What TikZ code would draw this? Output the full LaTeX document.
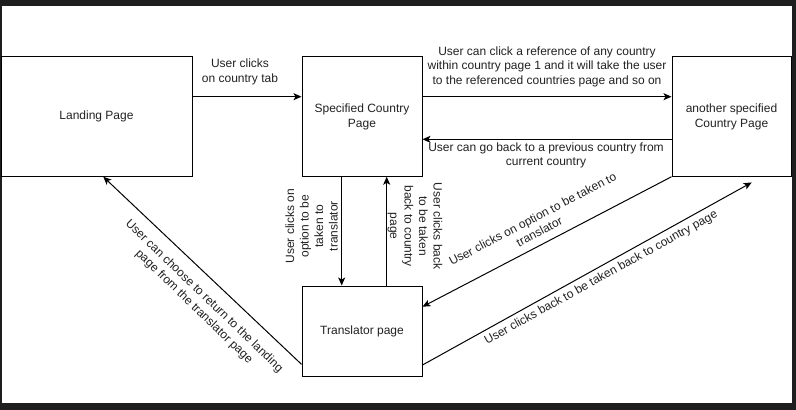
\documentclass[tikz,border=0pt]{standalone}
\usepackage{fontspec}
\setmainfont{Liberation Sans}
\usetikzlibrary{arrows.meta,calc}
\definecolor{bgdark}{HTML}{1E1E1E}
\definecolor{txt}{HTML}{222222}
\begin{document}
\begin{tikzpicture}[x=1pt,y=-1pt,
  box/.style={draw=black, line width=1pt, fill=white, inner sep=0pt,
    font=\fontsize{12}{15}\selectfont, text=txt, align=center},
  conn/.style={-{Stealth[length=8pt,width=7pt,inset=2pt]}, line width=1pt, draw=black},
  lbl/.style={font=\fontsize{12}{14.5}\selectfont, text=txt, align=center, inner sep=0pt}]
\useasboundingbox (0,0) rectangle (796,410);
\fill[bgdark] (0,0) rectangle (796,410);
\fill[white] (1.5,6) rectangle (792,403);

\node[box, minimum width=191pt, minimum height=119.5pt] (land) at (96.5,116.5) {Landing Page};
\node[box, minimum width=120pt, minimum height=119.5pt] (spec) at (362,116.5) {Specified Country\\Page};
\node[box, minimum width=119pt, minimum height=119.5pt] (other) at (731.5,116.5) {another specified\\Country Page};
\node[box, minimum width=120pt, minimum height=90pt] (trans) at (362,331) {Translator page};
\coordinate (tip8) at ([xshift=20.2pt,yshift=-5.7pt]other.south);

\draw[conn] ([yshift=19.8pt]land.east) -- node[lbl, xshift=-7pt, yshift=25pt]{User clicks\\on country tab} ([yshift=19.8pt]spec.west);
\draw[conn] ([yshift=19.8pt]spec.east) -- node[lbl, yshift=30pt]{User can click a reference of any country\\within country page 1 and it will take the user\\to the referenced countries page and so on} ([yshift=19.8pt]other.west);
\draw[conn] ([yshift=-22.8pt]other.west) -- node[lbl, xshift=-1pt, yshift=-16pt]{User can go back to a previous country from\\current country} ([yshift=-22.8pt]spec.east);
\draw[conn] ([xshift=-20.3pt]spec.south) -- node[lbl, xshift=-30.2pt, yshift=5pt, rotate=90]{User clicks on\\option to be\\taken to\\translator} ([xshift=-20.3pt]trans.north);
\draw[conn] ([xshift=24.7pt]trans.north) -- node[lbl, xshift=28.3pt, yshift=5pt, rotate=-90]{User clicks back\\to be taken\\back to country\\page} ([xshift=24.7pt]spec.south);
\draw[conn] ([yshift=-33.3pt]trans.west) -- node[lbl, xshift=-3.4pt, yshift=-31pt, rotate=-44]{User can choose to return to the landing\\page from the translator page} ([xshift=6.8pt]land.south);
\draw[conn] (other.south west) -- node[lbl, xshift=-11.1pt, yshift=16.4pt, rotate=27.6]{User clicks on option to be taken to\\translator} ([yshift=24.3pt]trans.east);
\draw[conn] ([yshift=-34pt]trans.east) -- node[lbl, xshift=14.1pt, yshift=-4.2pt, rotate=29]{User clicks back to be taken back to country page} (tip8);
\end{tikzpicture}
\end{document}
